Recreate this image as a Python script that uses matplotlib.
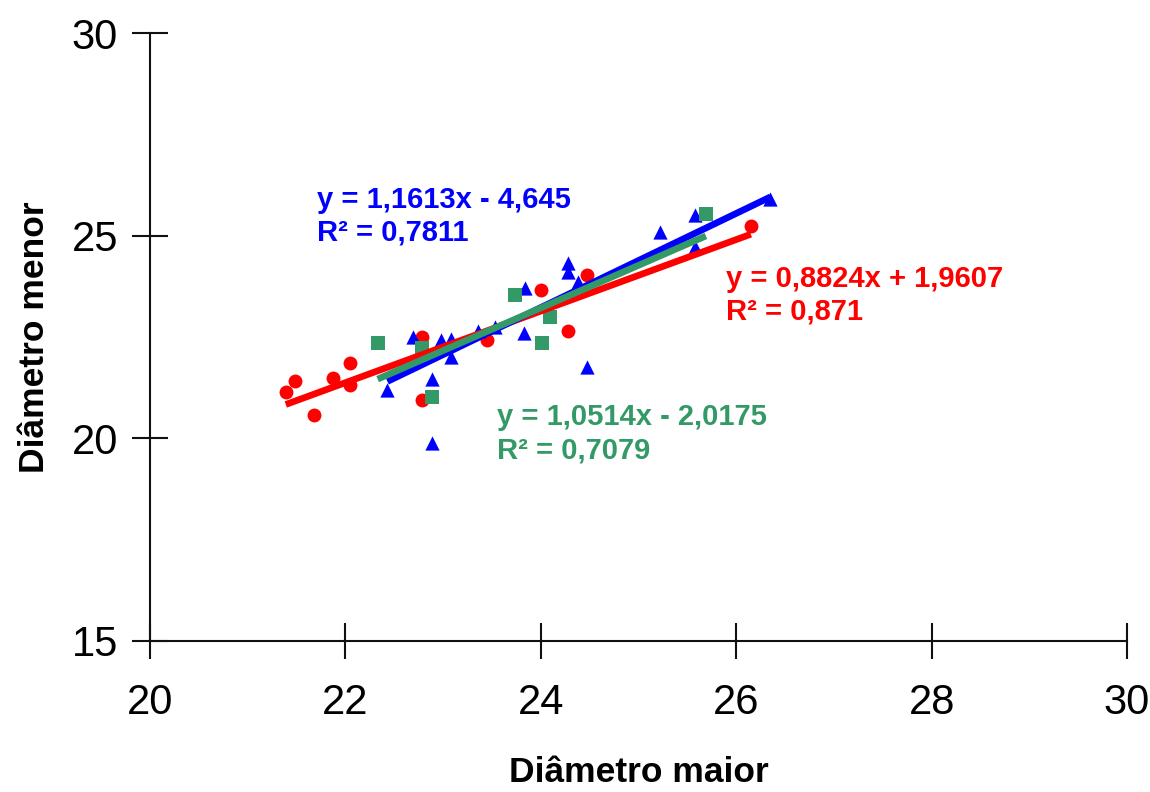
import matplotlib
matplotlib.use("Agg")
import matplotlib.pyplot as plt
import numpy as np

plt.rcParams['font.family'] = ['Liberation Sans', 'DejaVu Sans']

# Data
red_x = [21.39, 21.48, 21.68, 21.87, 22.05, 22.05, 22.78, 22.78, 23.45, 24.00, 24.28, 24.47, 26.15]
red_y = [21.14, 21.41, 20.57, 21.49, 21.86, 21.32, 20.94, 22.50, 22.43, 23.66, 22.65, 24.03, 25.24]

blue_x = [22.43, 22.69, 22.98, 23.08, 23.08, 22.89, 22.89, 23.36, 23.53, 23.84, 23.83,
          24.28, 24.28, 24.38, 24.47, 25.22, 25.58, 25.58, 26.35]
blue_y = [21.19, 22.50, 22.43, 22.45, 22.00, 21.46, 19.88, 22.65, 22.75, 23.71, 22.60,
          24.32, 24.10, 23.86, 21.76, 25.09, 24.72, 25.51, 25.90]

green_x = [22.33, 22.78, 22.89, 23.74, 24.09, 24.01, 25.69]
green_y = [22.35, 22.23, 21.02, 23.54, 23.00, 22.35, 25.53]

# Trend line coefficients (slope, intercept) and labels
red_fit = (0.8824, 1.9607)
blue_fit = (1.1613, -4.645)
green_fit = (1.0514, -2.0175)
red_label = ["y = 0,8824x + 1,9607", "R² = 0,871"]
blue_label = ["y = 1,1613x - 4,645", "R² = 0,7811"]
green_label = ["y = 1,0514x - 2,0175", "R² = 0,7079"]

x_ticks = [20, 22, 24, 26, 28, 30]
y_ticks = [15, 20, 25, 30]

RED = '#FF0000'
BLUE = '#0000FF'
GREEN = '#339966'

fig = plt.figure(figsize=(11.5, 7.92), dpi=100)
ax = fig.add_axes([150/1150, 1-641/792, (1127-150)/1150, (641-33)/792])

ax.scatter(red_x, red_y, marker='o', s=100, color=RED, zorder=3, linewidths=0)
ax.scatter(blue_x, blue_y, marker='^', s=105, color=BLUE, zorder=3, linewidths=0)
ax.scatter(green_x, green_y, marker='s', s=100, color=GREEN, zorder=3, linewidths=0)

for xs, fit, col in [(red_x, red_fit, RED), (blue_x, blue_fit, BLUE), (green_x, green_fit, GREEN)]:
    xr = np.array([min(xs), max(xs)])
    ax.plot(xr, fit[0]*xr + fit[1], color=col, lw=4.8, zorder=4, solid_capstyle='butt')

ax.set_xlim(20, 30)
ax.set_ylim(15, 30)
ax.set_xticks(x_ticks)
ax.set_yticks(y_ticks)
for s in ['top', 'right']:
    ax.spines[s].set_visible(False)
for s in ['left', 'bottom']:
    ax.spines[s].set_linewidth(1.5)
    ax.spines[s].set_color('#111111')
ax.tick_params(axis='both', direction='inout', length=26, width=1.5, color='#111111',
               labelsize=30)
ax.tick_params(axis='x', pad=17)
ax.tick_params(axis='y', pad=10)

ax.set_xlabel('Diâmetro maior', fontsize=25.5, fontweight='bold', labelpad=24)
ax.set_ylabel('Diâmetro menor', fontsize=25.5, fontweight='bold', labelpad=15)

def put(lines, px, py, col):
    fig.text(px/1150, 1-py/792, lines[0], color=col, fontsize=21, fontweight='bold',
             ha='left', va='center')
    fig.text(px/1150, 1-(py+33)/792, lines[1], color=col, fontsize=21, fontweight='bold',
             ha='left', va='center')

put(blue_label, 317, 200, BLUE)
put(red_label, 726, 279, RED)
put(green_label, 497, 417, GREEN)

fig.savefig('out.png', dpi=100)
